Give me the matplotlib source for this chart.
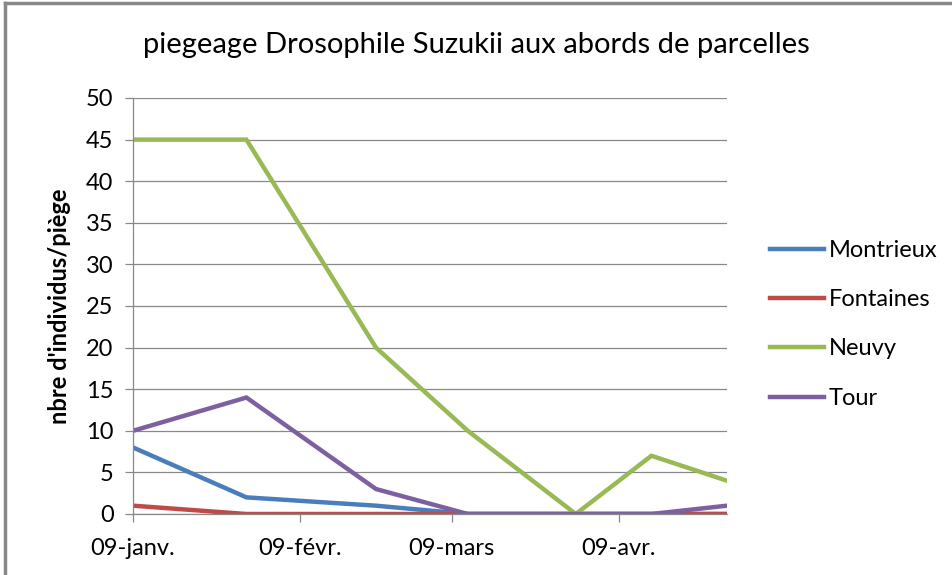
import matplotlib
matplotlib.use("Agg")
import matplotlib.pyplot as plt
from matplotlib.lines import Line2D
from datetime import datetime

# data
dates = ["2013-01-09", "2013-01-30", "2013-02-23", "2013-03-12",
         "2013-04-01", "2013-04-15", "2013-04-29"]
montrieux = [8, 2, 1, 0, 0, 0, 0]
fontaines = [1, 0, 0, 0, 0, 0, 0]
neuvy = [45, 45, 20, 10, 0, 7, 4]
tour = [10, 14, 3, 0, 0, 0, 1]

tick_dates = ["2013-01-09", "2013-02-09", "2013-03-09", "2013-04-09"]
tick_labels = ["09-janv.", "09-févr.", "09-mars", "09-avr."]

series = [("Montrieux", montrieux, "#4A7EBB"),
          ("Fontaines", fontaines, "#BE4B48"),
          ("Neuvy", neuvy, "#98B954"),
          ("Tour", tour, "#7D60A0")]

plt.rcParams['font.family'] = ['Lato', 'DejaVu Sans']

x = [datetime.strptime(d, "%Y-%m-%d") for d in dates]
xt = [datetime.strptime(d, "%Y-%m-%d") for d in tick_dates]

fig = plt.figure(figsize=(9.53, 5.75), dpi=100)
ax = fig.add_axes([133 / 953, 1 - 514 / 575, (727 - 133) / 953, (514 - 98) / 575])

for name, vals, col in series:
    ax.plot(x, vals, color=col, lw=3.2, label=name, solid_joinstyle='miter')

ax.set_ylim(0, 50)
ax.set_yticks(range(0, 51, 5))
ax.set_xlim(x[0], x[-1])
ax.set_xticks(xt)
ax.set_xticklabels(tick_labels)
ax.yaxis.grid(True, color='#888888', lw=0.9)
ax.set_axisbelow(True)

for s in ['top', 'right']:
    ax.spines[s].set_visible(False)
for s in ['left', 'bottom']:
    ax.spines[s].set_color('#888888')
    ax.spines[s].set_linewidth(0.9)

ax.tick_params(axis='both', direction='out', length=6, width=0.9,
               color='#888888', labelsize=17, labelcolor='black')
ax.tick_params(axis='y', pad=8)
ax.tick_params(axis='x', pad=11)

ax.set_ylabel("nbre d'individus/piège", fontsize=17, fontweight='bold', labelpad=11)

fig.text(0.5, 1 - 45 / 575, "piegeage Drosophile Suzukii aux abords de parcelles",
         ha='center', va='center', fontsize=21)

fig.legend(loc='upper left', bbox_to_anchor=(758 / 953, 1 - 228 / 575),
           frameon=False, fontsize=17, handlelength=2.3, handletextpad=0.2,
           labelspacing=1.2, borderpad=0)

# chart border (only left and top visible)
fig.add_artist(Line2D([5 / 953, 5 / 953], [0, 1 - 3 / 575], transform=fig.transFigure,
                      color='#888888', lw=2.5))
fig.add_artist(Line2D([5 / 953, 1], [1 - 3 / 575, 1 - 3 / 575], transform=fig.transFigure,
                      color='#888888', lw=2.5))

fig.savefig("out.png", dpi=100)
